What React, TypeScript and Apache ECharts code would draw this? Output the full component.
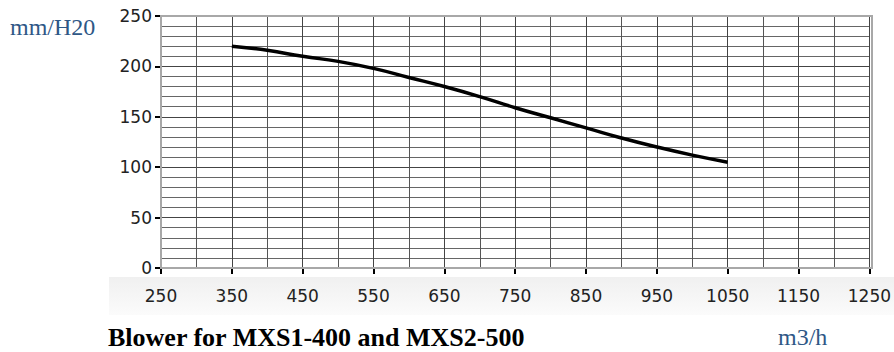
import React, { useEffect, useRef } from "react";
import * as echarts from "echarts";

const flow = [350, 400, 450, 500, 550, 600, 650, 700, 750, 800, 850, 900, 950, 1000, 1050];
const pressure = [220, 216, 210, 205, 198, 189, 180, 170, 159, 149, 139, 129, 120, 112, 105];
const yUnit = "mm/H20";
const xUnit = "m3/h";
const title = "Blower for MXS1-400 and MXS2-500";

export default function App() {
  const ref = useRef<HTMLDivElement>(null);
  useEffect(() => {
    if (!ref.current) return;
    const chart = echarts.init(ref.current, null, { renderer: "svg" });
    chart.setOption({
      animation: false,
      backgroundColor: "#ffffff",
      grid: { left: 161, right: 22, top: 16, bottom: 84, containLabel: false, show: false },
      graphic: [
        {
          type: "rect",
          z: -10,
          silent: true,
          shape: { x: 109, y: 277, width: 785, height: 38 },
          style: {
            fill: new echarts.graphic.LinearGradient(0, 0, 0, 1, [
              { offset: 0, color: "#f0f0f0" },
              { offset: 1, color: "#fbfbfb" },
            ]),
          },
        },
        {
          type: "rect",
          z: 1,
          silent: true,
          shape: { x: 161, y: 16, width: 711, height: 252 },
          style: { fill: "none", stroke: "#a8a8a8", lineWidth: 2 },
        },
        {
          type: "text",
          x: 10,
          y: 27,
          style: { text: yUnit, font: '24px "Liberation Serif"', fill: "#2e5786", verticalAlign: "middle" },
        },
        {
          type: "text",
          x: 108,
          y: 337,
          style: {
            text: title,
            font: 'bold 26px "Liberation Serif"',
            fill: "#000000",
            verticalAlign: "middle",
          },
        },
        {
          type: "text",
          x: 778,
          y: 337,
          style: { text: xUnit, font: '24px "Liberation Serif"', fill: "#2e5786", verticalAlign: "middle" },
        },
      ],
      xAxis: {
        type: "value",
        min: 250,
        max: 1250,
        interval: 100,
        axisLine: { show: true, onZero: false, lineStyle: { color: "#000", width: 2 } },
        axisTick: { show: true, length: 6, lineStyle: { color: "#000", width: 2 } },
        axisLabel: {
          margin: 19,
          fontFamily: "DejaVu Sans",
          fontSize: 17,
          color: "#222",
          formatter: (v: number) => String(v),
        },
        splitLine: { show: true, lineStyle: { color: "#444", width: 1 } },
        minorTick: { show: false, splitNumber: 2 },
        minorSplitLine: { show: true, lineStyle: { color: "#555", width: 1 } },
      },
      yAxis: {
        type: "value",
        min: 0,
        max: 250,
        interval: 50,
        axisLine: { show: true, lineStyle: { color: "#000", width: 2 } },
        axisTick: { show: true, length: 6, lineStyle: { color: "#000", width: 2 } },
        axisLabel: {
          margin: 9,
          fontFamily: "DejaVu Sans",
          fontSize: 17,
          color: "#222",
          formatter: (v: number) => String(v),
        },
        splitLine: { show: true, lineStyle: { color: "#444", width: 1 } },
        minorTick: { show: false, splitNumber: 5 },
        minorSplitLine: { show: true, lineStyle: { color: "#666", width: 1 } },
      },
      series: [
        {
          type: "line",
          smooth: true,
          symbol: "none",
          data: flow.map((x, i) => [x, pressure[i]]),
          lineStyle: { color: "#000", width: 3.5 },
          z: 5,
        },
      ],
    });
    return () => chart.dispose();
  }, []);
  return <div ref={ref} style={{ width: 894, height: 352, position: "absolute", left: 0, top: 0 }} />;
}
